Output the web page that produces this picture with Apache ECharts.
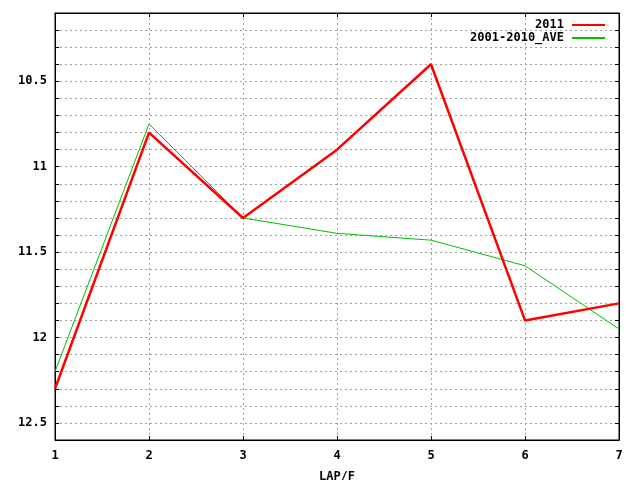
<!DOCTYPE html>
<html>
<head>
<meta charset="utf-8">
<script src="https://cdn.jsdelivr.net/npm/echarts@6/dist/echarts.min.js"></script>
<style>html,body{margin:0;padding:0;background:#fff}#c{width:640px;height:480px}</style>
</head>
<body>
<div id="c"></div>
<script>
var laps = [1, 2, 3, 4, 5, 6, 7];
var series2011 = [12.3, 10.8, 11.3, 10.9, 10.4, 11.9, 11.8];
var seriesAve = [12.2, 10.75, 11.3, 11.39, 11.43, 11.58, 11.95];
var seriesNames = ['2011', '2001-2010_AVE'];
var yMin = 10.1, yMax = 12.6;

function pairs(xs, ys) { return xs.map(function (x, i) { return [x, ys[i]]; }); }
var font = 'DejaVu Sans Mono';
var grid = { left: 55, right: 21, top: 13, bottom: 40, show: true, borderColor: '#000', borderWidth: 1, containLabel: false, outerBoundsMode: 'none' };
var gridLine = { show: true, lineStyle: { color: '#a0a0a0', type: [2, 3], width: 1 } };
var tickStyle = { show: true, inside: true, length: 4, lineStyle: { color: '#000' } };
function yLabel(v) {
  return Math.abs(v * 2 - Math.round(v * 2)) < 1e-6 ? String(Math.round(v * 10) / 10) : '';
}
var chart = echarts.init(document.getElementById('c'), null, { renderer: 'canvas' });
chart.setOption({
  animation: false,
  backgroundColor: '#fff',
  grid: grid,
  legend: {
    orient: 'vertical', right: 34, top: 19, align: 'right', padding: 0,
    itemWidth: 33, itemHeight: 8, itemGap: 1,
    itemStyle: { opacity: 0 },
    textStyle: { fontFamily: font, fontWeight: 'bold', fontSize: 12, color: '#000', padding: [0, 3, 0, 0] },
    data: seriesNames
  },
  xAxis: [{
    type: 'value', min: 1, max: 7, interval: 1,
    name: 'LAP/F', nameLocation: 'middle', nameGap: 31,
    nameTextStyle: { fontFamily: font, fontWeight: 'bold', fontSize: 12, color: '#000' },
    axisLine: { show: true, lineStyle: { color: '#000' } },
    axisTick: tickStyle,
    axisLabel: { margin: 10, fontFamily: font, fontWeight: 'bold', fontSize: 12, color: '#000' },
    splitLine: gridLine
  }, {
    type: 'value', position: 'top', min: 1, max: 7, interval: 1,
    axisLine: { show: true, lineStyle: { color: '#000' } },
    axisTick: tickStyle, axisLabel: { show: false }, splitLine: { show: false }
  }],
  yAxis: [{
    type: 'value', inverse: true, min: yMin, max: yMax, interval: 0.1,
    axisLine: { show: true, lineStyle: { color: '#000' } },
    axisTick: tickStyle,
    axisLabel: { margin: 8, formatter: yLabel, fontFamily: font, fontWeight: 'bold', fontSize: 12, color: '#000' },
    splitLine: gridLine
  }, {
    type: 'value', position: 'right', inverse: true, min: yMin, max: yMax, interval: 0.1,
    axisLine: { show: true, lineStyle: { color: '#000' } },
    axisTick: tickStyle, axisLabel: { show: false }, splitLine: { show: false }
  }],
  series: [{
    name: seriesNames[0], type: 'line', data: pairs(laps, series2011),
    symbol: 'none', color: '#ff0000', lineStyle: { color: '#ff0000', width: 2.5 }, z: 3
  }, {
    name: seriesNames[1], type: 'line', data: pairs(laps, seriesAve),
    symbol: 'none', color: '#00c000', lineStyle: { color: '#00c000', width: 1 }, z: 2
  }]
});
</script>
</body>
</html>
